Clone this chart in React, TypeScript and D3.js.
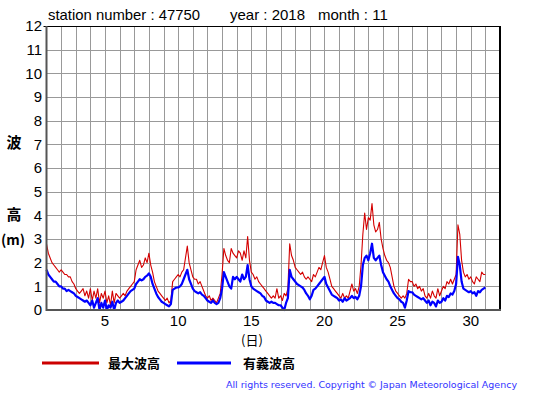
import React from "react";
import * as d3 from "d3";

// 3-hourly values, Nov 1 00h .. Dec 1 00h
const maxWave: number[] = [
  // D1
  2.8, 2.4, 2.2, 2.0, 1.9, 1.8, 1.7, 1.6,
  // D2
  1.7, 1.6, 1.5, 1.5, 1.4, 1.4, 1.2, 1.1,
  // D3
  0.9, 0.8, 0.7, 0.8, 0.9, 0.6, 0.8, 0.5,
  // D4
  0.9, 0.4, 0.8, 0.5, 0.9, 0.3, 0.7, 0.5,
  // D5
  0.8, 0.3, 0.6, 0.2, 0.8, 0.3, 0.7, 0.6,
  // D6
  0.5, 0.6, 0.7, 0.6, 0.8, 0.9, 1.0, 1.1,
  // D7
  1.2, 1.7, 1.9, 2.1, 1.8, 1.9, 2.2, 2.0,
  // D8
  2.4, 1.9, 1.6, 1.2, 1.0, 0.8, 0.7, 0.6,
  // D9
  0.5, 0.4, 0.5, 0.3, 0.4, 1.2, 1.3, 1.4,
  // D10
  1.5, 1.4, 1.6, 1.7, 2.2, 2.7, 2.0, 1.7,
  // D11
  1.4, 1.3, 1.3, 1.1, 1.2, 1.0, 0.8, 0.6,
  // D12
  0.5, 0.6, 0.4, 0.5, 0.4, 0.3, 0.5, 0.7,
  // D13
  1.5, 2.6, 2.3, 2.1, 2.0, 2.6, 2.4, 2.3,
  // D14
  2.2, 2.5, 2.4, 2.1, 2.5, 2.2, 3.1, 2.1,
  // D15
  1.6, 1.5, 1.3, 1.4, 1.2, 1.1, 1.0, 0.9,
  // D16
  0.8, 0.7, 0.6, 0.5, 0.6, 0.5, 0.9, 0.5,
  // D17
  0.6, 0.4, 0.7, 0.6, 0.9, 2.8, 2.3, 2.1,
  // D18
  1.8, 1.7, 1.6, 1.5, 1.6, 1.4, 1.3, 1.4,
  // D19
  1.3, 1.2, 1.5, 1.4, 1.6, 1.8, 1.7, 2.0,
  // D20
  2.3, 1.8, 1.6, 1.3, 1.0, 0.9, 0.8, 0.7,
  // D21
  0.6, 0.5, 0.7, 0.5, 0.6, 0.5, 0.8, 1.1,
  // D22
  0.8, 0.9, 0.7, 1.0, 1.9, 3.2, 4.1, 3.4,
  // D23
  3.9, 3.8, 4.5, 3.6, 3.3, 3.4, 3.7, 3.0,
  // D24
  2.6, 2.3, 2.1, 2.0, 1.8, 1.4, 1.0, 0.8,
  // D25
  0.7, 0.6, 0.5, 0.6, 0.5, 0.7, 1.3, 1.2,
  // D26
  1.2, 1.0, 1.1, 0.9, 1.0, 0.8, 0.9, 0.6,
  // D27
  0.5, 0.7, 0.5, 0.8, 0.6, 0.5, 0.9, 0.6,
  // D28
  0.8, 1.0, 0.9, 1.2, 1.1, 1.3, 1.1, 1.3,
  // D29
  1.5, 3.6, 3.2, 2.1, 1.6, 1.4, 1.5, 1.3,
  // D30
  1.4, 1.2, 1.1, 1.4, 1.3, 1.2, 1.6, 1.5,
  // Dec 1 00h
  1.5,
];

const sigWave: number[] = [
  // D1
  1.7, 1.5, 1.4, 1.3, 1.2, 1.2, 1.1, 1.0,
  // D2
  1.0, 0.9, 0.9, 0.8, 0.85, 0.8, 0.75, 0.7,
  // D3
  0.6, 0.55, 0.5, 0.45, 0.4, 0.35, 0.4, 0.3,
  // D4
  0.2, 0.4, 0.1, 0.3, 0.5, 0.0, 0.3, 0.1,
  // D5
  0.4, 0.0, 0.2, 0.1, 0.35, 0.0, 0.3, 0.4,
  // D6
  0.3, 0.35, 0.4, 0.5, 0.6, 0.7, 0.8, 0.85,
  // D7
  0.9, 1.1, 1.2, 1.3, 1.25, 1.3, 1.4, 1.45,
  // D8
  1.55, 1.4, 1.1, 0.9, 0.7, 0.55, 0.45, 0.35,
  // D9
  0.3, 0.25, 0.2, 0.15, 0.25, 0.85, 0.9, 0.95,
  // D10
  0.95, 1.0, 1.1, 1.3, 1.5, 1.7, 1.3, 1.1,
  // D11
  0.9, 0.8, 0.75, 0.7, 0.75, 0.65, 0.6, 0.5,
  // D12
  0.4, 0.35, 0.3, 0.4, 0.3, 0.25, 0.3, 0.5,
  // D13
  0.9, 1.6, 1.4, 1.2, 1.0, 0.9, 1.4, 1.3,
  // D14
  1.4, 1.3, 1.2, 1.5, 1.3, 1.4, 1.9, 1.3,
  // D15
  1.0, 0.9, 0.85, 0.8, 0.75, 0.7, 0.6, 0.55,
  // D16
  0.4, 0.35, 0.3, 0.35, 0.3, 0.3, 0.25, 0.2,
  // D17
  0.2, 0.1, 0.0, 0.3, 0.5, 1.7, 1.4, 1.3,
  // D18
  1.2, 1.1, 1.05, 1.0, 0.95, 0.85, 0.7, 0.6,
  // D19
  0.45, 0.6, 0.85, 0.9, 1.0, 1.1, 1.2, 1.3,
  // D20
  1.4, 1.1, 0.95, 0.8, 0.65, 0.6, 0.55, 0.5,
  // D21
  0.4, 0.45, 0.35, 0.5, 0.4, 0.45, 0.5, 0.6,
  // D22
  0.5, 0.55, 0.45, 0.6, 1.0, 1.9, 2.2, 2.3,
  // D23
  2.1, 2.4, 2.8, 2.2, 2.1, 2.2, 2.3, 1.9,
  // D24
  1.6, 1.45, 1.3, 1.2, 1.0, 0.85, 0.7, 0.6,
  // D25
  0.5, 0.45, 0.35, 0.3, 0.1, 0.4, 0.8, 0.75,
  // D26
  0.75, 0.65, 0.6, 0.55, 0.5, 0.45, 0.5, 0.4,
  // D27
  0.3, 0.4, 0.2, 0.35, 0.3, 0.15, 0.4, 0.3,
  // D28
  0.35, 0.5, 0.4, 0.6, 0.55, 0.7, 0.65, 0.8,
  // D29
  1.1, 2.25, 1.9, 1.2, 0.9, 0.85, 0.8, 0.75,
  // D30
  0.8, 0.7, 0.75, 0.6, 0.8, 0.75, 0.85, 0.9,
  // Dec 1 00h
  0.95,
];

const yTicks: number[] = [0, 1, 2, 3, 4, 5, 6, 7, 8, 9, 10, 11, 12];
const xTickLabels: number[] = [5, 10, 15, 20, 25, 30];
const dayGrid: number[] = d3.range(2, 32);
const seriesNames: string[] = ["最大波高", "有義波高"];

export default function App() {
  const W = 555;
  const H = 395;
  const x = d3.scaleLinear().domain([1, 32]).range([46.5, 500]);
  const y = d3.scaleLinear().domain([0, 12]).range([310, 26]);
  const t = (i: number) => 1 + i / 8;

  const line = d3
    .line<number>()
    .x((_, i) => x(t(i)))
    .y((d) => y(d));

  const font = "'Liberation Sans', Arial, Helvetica, sans-serif";
  const cjk = "'Noto Sans CJK JP', sans-serif";

  return (
    <svg
      width={W}
      height={H}
      style={{ position: "absolute", left: 0, top: 0, background: "#fff" }}
    >
      <rect x={0} y={0} width={W} height={H} fill="#fff" />
      {/* grid */}
      {dayGrid.map((d) => (
        <line
          key={"vx" + d}
          x1={Math.round(x(d)) + 0.5}
          x2={Math.round(x(d)) + 0.5}
          y1={y(12)}
          y2={y(0)}
          stroke="#999"
          strokeWidth={1}
        />
      ))}
      {yTicks.slice(1, -1).map((v) => (
        <line
          key={"hy" + v}
          x1={x(1)}
          x2={x(32)}
          y1={Math.round(y(v)) + 0.5}
          y2={Math.round(y(v)) + 0.5}
          stroke="#999"
          strokeWidth={1}
        />
      ))}
      {/* frame */}
      <line x1={x(1) - 3} x2={x(32)} y1={y(12) + 0.5} y2={y(12) + 0.5} stroke="#000" strokeWidth={1} />
      <line x1={x(32)} x2={x(32)} y1={y(12)} y2={y(0)} stroke="#000" strokeWidth={2} />

      {/* series */}
      <path d={line(maxWave) || ""} fill="none" stroke="#d40000" strokeWidth={1.1} strokeLinejoin="round" />
      <path d={line(sigWave) || ""} fill="none" stroke="#0000ff" strokeWidth={2.2} strokeLinejoin="round" />

      {/* axes */}
      <line x1={x(1)} x2={x(1)} y1={y(12)} y2={y(0) + 1} stroke="#555" strokeWidth={2} />
      <line x1={x(1)} x2={x(32) + 1} y1={y(0)} y2={y(0)} stroke="#555" strokeWidth={2} />

      {/* y tick labels */}
      {yTicks.map((v) => (
        <text
          key={"yt" + v}
          x={42}
          y={y(v)}
          dy="0.36em"
          textAnchor="end"
          fontFamily={font}
          fontSize={15}
          fill="#000"
        >
          {v}
        </text>
      ))}
      {/* x tick labels */}
      {xTickLabels.map((d) => (
        <text
          key={"xt" + d}
          x={x(d)}
          y={326}
          textAnchor="middle"
          fontFamily={font}
          fontSize={15}
          fill="#000"
        >
          {d}
        </text>
      ))}
      <text x={252} y={345} textAnchor="middle" fontFamily={cjk} fontSize={13} fill="#000">
        (日)
      </text>

      {/* y axis label */}
      <text x={14} y={148} textAnchor="middle" fontFamily={cjk} fontSize={15} fontWeight="bold" fill="#000">
        波
      </text>
      <text x={14} y={220} textAnchor="middle" fontFamily={cjk} fontSize={15} fontWeight="bold" fill="#000">
        高
      </text>
      <text x={13} y={245} textAnchor="middle" fontFamily={cjk} fontSize={14} fontWeight="bold" fill="#000">
        (m)
      </text>

      {/* title */}
      <text x={48} y={20} fontFamily={font} fontSize={15} fill="#000" textLength={152} lengthAdjust="spacingAndGlyphs">
        station number : 47750
      </text>
      <text x={230} y={20} fontFamily={font} fontSize={15} fill="#000">
        year : 2018
      </text>
      <text x={318} y={20} fontFamily={font} fontSize={15} fill="#000">
        month : 11
      </text>

      {/* legend */}
      <line x1={42} x2={99} y1={363} y2={363} stroke="#cc0000" strokeWidth={3} />
      <text x={108} y={368} fontFamily={cjk} fontSize={13} fontWeight="bold" fill="#000">
        {seriesNames[0]}
      </text>
      <line x1={177} x2={231} y1={363} y2={363} stroke="#0000ff" strokeWidth={3} />
      <text x={243} y={368} fontFamily={cjk} fontSize={13} fontWeight="bold" fill="#000">
        {seriesNames[1]}
      </text>

      {/* copyright */}
      <text
        x={226}
        y={388}
        fontFamily="'DejaVu Sans', Verdana, sans-serif"
        fontSize={9.5}
        fill="#3333ff"
        textLength={291}
        lengthAdjust="spacing"
      >
        All rights reserved. Copyright © Japan Meteorological Agency
      </text>
    </svg>
  );
}
